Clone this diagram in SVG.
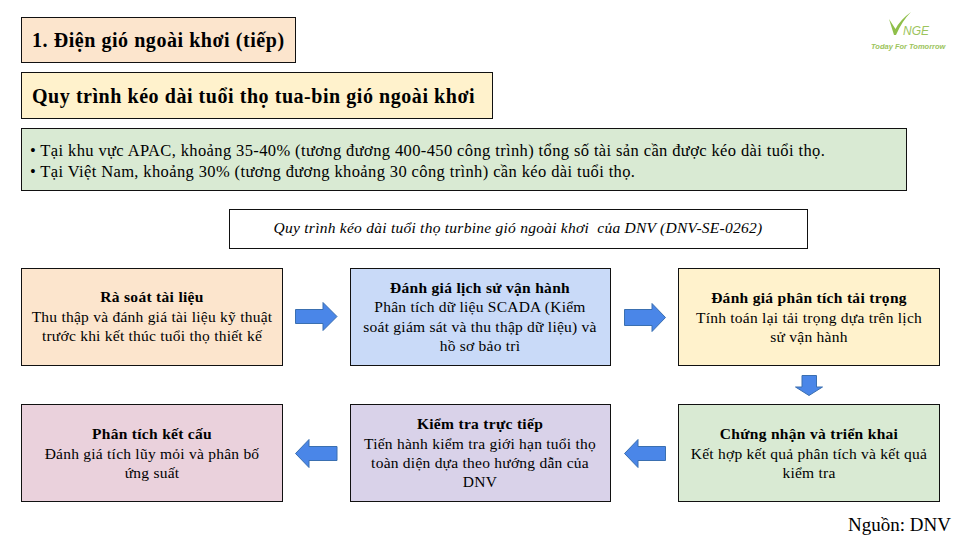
<svg xmlns="http://www.w3.org/2000/svg" width="960" height="540" viewBox="0 0 960 540">
<style>
text{font-family:"Liberation Serif","Times New Roman",serif;fill:#000;font-size:15.5px;letter-spacing:.24px;white-space:pre}
.c{text-anchor:middle}
.b{font-weight:bold;letter-spacing:.3px}
.h{font-size:20px;letter-spacing:.55px}
.s{font-size:16.5px;letter-spacing:.38px}
rect.n{stroke:#111;stroke-width:1}
.arrow{fill:#4a86e8;stroke:#3a6fb0;stroke-width:1}
text.logo{font-family:"Liberation Sans",Arial,sans-serif;fill:#9cc45c;font-style:italic;letter-spacing:0}
</style>
<rect width="960" height="540" fill="#fff"/>
<g id="logo">
<path d="M889 19 L895.500 29 Q900 20 911 12 Q902 21 896 35 L894 35 Z" fill="#8fbf4a"/>
<text class="logo" x="903" y="35" style="font-size:12px">NGE</text>
<text class="logo" x="871" y="49" style="font-size:7.500px;font-weight:bold">Today For Tomorrow</text>
</g>
<g id="title1"><rect class="n" x="21.500" y="17.500" width="274" height="45" fill="#fce5cd"/><text x="32" y="47" class="b h">1. Điện gió ngoài khơi (tiếp)</text></g>
<g id="title2"><rect class="n" x="21.500" y="72.500" width="471" height="46" fill="#fff2cc"/><text x="32" y="102.500" class="b h">Quy trình kéo dài tuổi thọ tua-bin gió ngoài khơi</text></g>
<g id="summary"><rect class="n" x="21.500" y="128.500" width="885" height="62" fill="#d9ead3"/>
<text x="30" y="155.500" class="s">• Tại khu vực APAC, khoảng 35-40% (tương đương 400-450 công trình) tổng số tài sản cần được kéo dài tuổi thọ.</text>
<text x="30" y="176.500" class="s">• Tại Việt Nam, khoảng 30% (tương đương khoảng 30 công trình) cần kéo dài tuổi thọ.</text></g>
<g id="caption"><rect class="n" x="229.500" y="209.500" width="578" height="39" fill="#fff"/><text class="c" x="518" y="233" font-style="italic" style="letter-spacing:.25px">Quy trình kéo dài tuổi thọ turbine gió ngoài khơi  của DNV (DNV-SE-0262)</text></g>
<g id="step1"><rect class="n" x="21.500" y="268.500" width="261" height="97" fill="#fce5cd"/>
<text class="c b" x="152" y="302">Rà soát tài liệu</text><text class="c" x="152" y="322">Thu thập và đánh giá tài liệu kỹ thuật</text><text class="c" x="152" y="341">trước khi kết thúc tuổi thọ thiết kế</text></g>
<g id="step2"><rect class="n" x="350.500" y="268.500" width="260" height="97" fill="#c9daf8"/>
<text class="c b" x="480" y="293">Đánh giá lịch sử vận hành</text><text class="c" x="480" y="312">Phân tích dữ liệu SCADA (Kiểm</text><text class="c" x="480" y="332">soát giám sát và thu thập dữ liệu) và</text><text class="c" x="480" y="351">hồ sơ bảo trì</text></g>
<g id="step3"><rect class="n" x="678.500" y="268.500" width="261" height="97" fill="#fff2cc"/>
<text class="c b" x="809" y="303">Đánh giá phân tích tải trọng</text><text class="c" x="809" y="323">Tính toán lại tải trọng dựa trên lịch</text><text class="c" x="809" y="342">sử vận hành</text></g>
<g id="step4"><rect class="n" x="678.500" y="404.500" width="261" height="97" fill="#d9ead3"/>
<text class="c b" x="809" y="439">Chứng nhận và triển khai</text><text class="c" x="809" y="459">Kết hợp kết quả phân tích và kết quả</text><text class="c" x="809" y="478">kiểm tra</text></g>
<g id="step5"><rect class="n" x="350.500" y="404.500" width="260" height="97" fill="#d9d2e9"/>
<text class="c b" x="480" y="429">Kiểm tra trực tiếp</text><text class="c" x="480" y="449">Tiến hành kiểm tra giới hạn tuổi thọ</text><text class="c" x="480" y="468">toàn diện dựa theo hướng dẫn của</text><text class="c" x="480" y="487">DNV</text></g>
<g id="step6"><rect class="n" x="21.500" y="404.500" width="261" height="97" fill="#ead1dc"/>
<text class="c b" x="152" y="439">Phân tích kết cấu</text><text class="c" x="152" y="459">Đánh giá tích lũy mỏi và phân bố</text><text class="c" x="152" y="478">ứng suất</text></g>
<g id="connectors">
<path class="arrow" d="M295.500 309.500H323V302.500L337 316.500L323 330.500V323.500H295.500Z"/>
<path class="arrow" d="M624.500 309.500H652V303.500L665.500 317.500L652 331.500V325.500H624.500Z"/>
<path class="arrow" d="M802 375.500H816.500V387H822.500L809 395.500L795.500 387H802Z"/>
<path class="arrow" d="M665.500 446.500H638V439.500L624.500 453.500L638 467.500V460.500H665.500Z"/>
<path class="arrow" d="M337 446.500H309V439.500L295.500 453.500L309 467.500V460.500H337Z"/>
</g>
<text id="source" x="848" y="531" style="font-size:19px;letter-spacing:0">Nguồn: DNV</text>
</svg>
